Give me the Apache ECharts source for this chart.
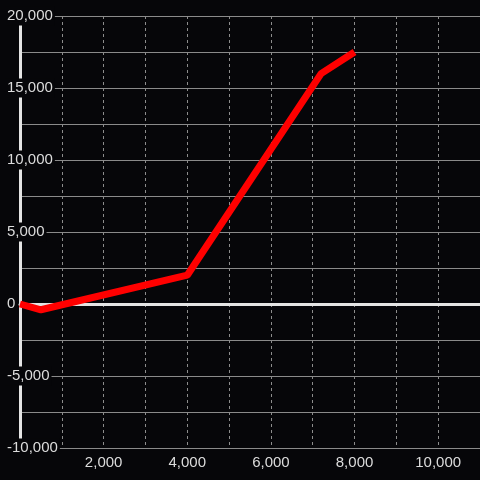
<!DOCTYPE html>
<html>
<head>
<meta charset="utf-8">
<script src="https://cdn.jsdelivr.net/npm/echarts@6/dist/echarts.min.js"></script>
<style>
  html, body { margin: 0; padding: 0; background: #060609; }
  #chart { width: 480px; height: 480px; }
</style>
</head>
<body>
<div id="chart"></div>
<script>
// points
var xValues = [0, 500, 4000, 7200, 8000];
var yValues = [0, -400, 2000, 16000, 17500];

var xMin = 0, xMax = 11000;
var yMin = -10000, yMax = 20000;

var chart = echarts.init(document.getElementById('chart'));

var labelFont = {
    color: '#dcdcdc',
    fontSize: 15,
    fontFamily: 'Liberation Sans, Arial, sans-serif'
};

var pts = xValues.map(function (x, i) { return [x, yValues[i]]; });

var option = {
    backgroundColor: '#060609',
    animation: false,
    grid: { left: 20, top: 16, width: 462, height: 432, containLabel: false },
    xAxis: [
        {
            type: 'value', min: xMin, max: xMax, interval: 1000,
            axisLine: { show: true, onZero: true, lineStyle: { color: '#e4e4e4', width: 3 } },
            axisTick: { show: false },
            axisLabel: { show: false },
            splitLine: { show: true, lineStyle: { color: '#8c8c8c', width: 1, type: [3, 3] } }
        },
        {
            type: 'value', min: xMin, max: xMax, interval: 2000, position: 'bottom',
            axisLine: { show: false, onZero: false },
            axisTick: { show: false },
            splitLine: { show: false },
            axisLabel: Object.assign({
                margin: 7, showMinLabel: false, showMaxLabel: false,
                formatter: function (v) { return v.toLocaleString('en-US'); }
            }, labelFont)
        }
    ],
    yAxis: [
        {
            type: 'value', min: yMin, max: yMax, interval: 2500,
            axisLine: { show: true, onZero: true, lineStyle: { color: '#e4e4e4', width: 3 } },
            axisTick: { show: false },
            axisLabel: { show: false },
            splitLine: { show: true, lineStyle: { color: '#8a8a8a', width: 1 } }
        },
        {
            type: 'value', min: yMin, max: yMax, interval: 5000, position: 'left', z: 1,
            axisLine: { show: false, onZero: false },
            axisTick: { show: false },
            splitLine: { show: false },
            axisLabel: Object.assign({
                inside: true, margin: -15,
                backgroundColor: '#060609', padding: [2, 2],
                formatter: function (v) { return v.toLocaleString('en-US'); }
            }, labelFont)
        }
    ],
    series: [
        {
            type: 'line',
            xAxisIndex: 0,
            yAxisIndex: 0,
            data: pts,
            showSymbol: false,
            z: 3,
            lineStyle: { color: '#ff0000', width: 7 }
        }
    ]
};

chart.setOption(option);
</script>
</body>
</html>
